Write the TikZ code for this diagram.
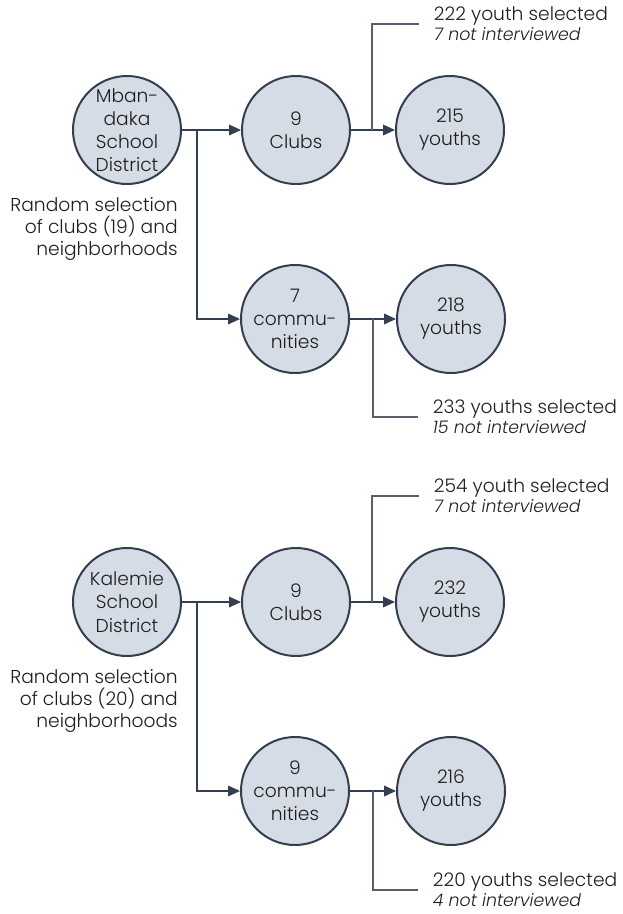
\documentclass[tikz,border=0pt]{standalone}
\usepackage{fontspec}
\setmainfont{Poppins}[UprightFont=* Light, ItalicFont=* Light Italic, BoldFont=* Medium]
\usetikzlibrary{arrows.meta}
\definecolor{nodefill}{HTML}{D6DCE5}
\definecolor{navy}{HTML}{333F50}
\definecolor{lblline}{HTML}{56606E}
\definecolor{txt}{HTML}{1E1E1E}
\begin{document}
\begin{tikzpicture}[x=0.75pt,y=-0.75pt,
  circ/.style={circle, draw=navy, line width=1.5pt, fill=nodefill, minimum size=81pt, inner sep=0pt, align=center, text=txt, font=\fontsize{14}{17.3}\selectfont},
  arr/.style={draw=navy, line width=1.1pt, -{Triangle[length=9pt,width=8pt]}},
  conn/.style={draw=navy, line width=1.1pt},
  lblconn/.style={draw=lblline, line width=0.8pt},
  lbl/.style={anchor=west, align=left, inner xsep=11pt, inner ysep=0pt, text=txt, font=\fontsize{14}{15}\selectfont},
  note/.style={anchor=east, align=right, inner sep=0pt, text=txt, font=\fontsize{14}{16.5}\selectfont}]
\useasboundingbox (0,0) rectangle (623,914);

% ---------- Mbandaka ----------
\node[circ] (m) at (127,130) {Mban-\\daka\\School\\District};
\node[circ] (c1) at (296,130) {9\\Clubs};
\node[circ] (y1) at (450,130) {215\\youths};
\node[circ] (k1) at (295,319) {7\\commu-\\nities};
\node[circ] (y2) at (451,319) {218\\youths};
\node[note] (r1) at (178,229) {Random selection\\of clubs (19) and\\neighborhoods};
\node[lbl] (l1) at (419,24) {222 youth selected\\{\itshape\fontsize{13}{15}\selectfont 7 not interviewed}};
\node[lbl] (l2) at (418,417) {233 youths selected\\{\itshape\fontsize{13}{15}\selectfont 15 not interviewed}};

\coordinate (j1) at (197,130);
\coordinate (b1) at (372,130);
\coordinate (b2) at (373,319);
\draw[arr] (m.east) -- (c1.west);
\draw[arr] (j1) |- (k1.west);
\draw[arr] (c1.east) -- (y1.west);
\draw[arr] (k1.east) -- (y2.west);
\draw[lblconn] (b1) |- (l1.west);
\draw[lblconn] (b2) |- (l2.west);

% ---------- Kalemie ----------
\node[circ] (m2) at (127,602) {Kalemie\\School\\District};
\node[circ] (c2) at (296,602) {9\\Clubs};
\node[circ] (y3) at (450,602) {232\\youths};
\node[circ] (k2) at (295,791) {9\\commu-\\nities};
\node[circ] (y4) at (451,791) {216\\youths};
\node[note] (r2) at (178,701) {Random selection\\of clubs (20) and\\neighborhoods};
\node[lbl] (l3) at (419,496) {254 youth selected\\{\itshape\fontsize{13}{15}\selectfont 7 not interviewed}};
\node[lbl] (l4) at (418,890) {220 youths selected\\{\itshape\fontsize{13}{15}\selectfont 4 not interviewed}};

\coordinate (j2) at (197,602);
\coordinate (b3) at (372,602);
\coordinate (b4) at (373,791);
\draw[arr] (m2.east) -- (c2.west);
\draw[arr] (j2) |- (k2.west);
\draw[arr] (c2.east) -- (y3.west);
\draw[arr] (k2.east) -- (y4.west);
\draw[lblconn] (b3) |- (l3.west);
\draw[lblconn] (b4) |- (l4.west);
\end{tikzpicture}
\end{document}
